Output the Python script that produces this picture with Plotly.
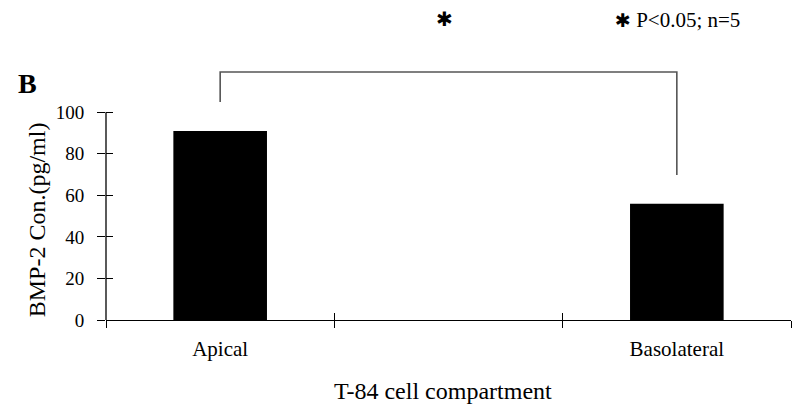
import plotly.graph_objects as go

categories = ["Apical", " ", "Basolateral"]
values = [91, None, 56]
y_ticks = [0, 20, 40, 60, 80, 100]
bracket_x = ["Apical", "Apical", "Basolateral", "Basolateral"]
bracket_y = [105, 119.4, 119.4, 69.8]
y_title = "BMP-2 Con.(pg/ml)"
x_title = "T-84 cell compartment"
panel_label = "B"
sig_mark = "✱"
sig_note = "P<0.05; n=5"

FONT = "Liberation Serif"
YMAX = 150.2

fig = go.Figure()
fig.add_trace(go.Bar(x=categories, y=values, width=0.41,
                     marker=dict(color="black", line=dict(width=0)),
                     hoverinfo="skip"))
fig.add_trace(go.Scatter(x=bracket_x, y=bracket_y, mode="lines",
                         line=dict(color="#555555", width=1.6),
                         hoverinfo="skip"))
# invisible trace carrying the overlay axes (for crossing tick marks)
fig.add_trace(go.Scatter(x=categories, y=[0, 0, 0], xaxis="x2", yaxis="y2",
                         mode="markers", marker=dict(opacity=0),
                         hoverinfo="skip"))

fig.update_layout(
    width=792, height=406,
    margin=dict(l=106, r=1, t=8, b=86),
    paper_bgcolor="white", plot_bgcolor="white",
    showlegend=False,
    font=dict(family=FONT, color="black"),
    xaxis=dict(type="category", categoryorder="array", categoryarray=categories,
               range=[-0.5, 2.5], tickson="boundaries",
               ticks="outside", ticklen=7, tickwidth=1.3, tickcolor="black",
               showline=True, linecolor="black", linewidth=1.3,
               showgrid=False, zeroline=False,
               tickfont=dict(family=FONT, size=21, color="black"),
               ticklabelstandoff=10),
    yaxis=dict(range=[0, YMAX], tickvals=y_ticks,
               ticks="outside", ticklen=8, tickwidth=1.3, tickcolor="black",
               showline=False, showgrid=False, zeroline=False,
               tickfont=dict(family=FONT, size=19, color="black"),
               ticklabelstandoff=9),
    xaxis2=dict(type="category", categoryorder="array", categoryarray=categories,
                range=[-0.5, 2.5], tickson="boundaries", overlaying="x",
                anchor="y2", side="bottom",
                ticks="inside", ticklen=7, tickwidth=1.3, tickcolor="black",
                showticklabels=False, showline=False, showgrid=False, zeroline=False),
    yaxis2=dict(range=[0, YMAX], tickvals=y_ticks, overlaying="y",
                anchor="x2", side="left",
                ticks="inside", ticklen=7, tickwidth=1.3, tickcolor="black",
                showticklabels=False, showline=False, showgrid=False, zeroline=False),
)

# y-axis line only up to 100
fig.add_shape(type="line", xref="paper", yref="y", x0=0, x1=0, y0=0, y1=y_ticks[-1],
              line=dict(color="black", width=1.3))

annotations = [
    dict(text=y_title, textangle=-90, xref="paper", yref="y", x=0, y=48,
         xanchor="center", yanchor="middle", xshift=-69, showarrow=False,
         font=dict(family=FONT, size=24, color="black")),
    dict(text=x_title, xref="x", yref="paper", x=1, y=0, xanchor="center",
         yanchor="top", xshift=-6, yshift=-56, showarrow=False,
         font=dict(family=FONT, size=24, color="black")),
    dict(text="<b>" + panel_label + "</b>", xref="paper", yref="y", x=0, y=114,
         xanchor="center", yanchor="middle", xshift=-79, showarrow=False,
         font=dict(family=FONT, size=28, color="black")),
    dict(text=sig_mark, xref="x", yref="y", x=1, y=145,
         xanchor="center", yanchor="middle", xshift=-4, showarrow=False,
         font=dict(family="DejaVu Sans", size=20, color="black")),
    dict(text='<span style="font-family:DejaVu Sans;font-size:19px">' + sig_mark
         + "</span> " + sig_note, xref="x", yref="y", x=1.72, y=144.5,
         xanchor="left", yanchor="middle", showarrow=False,
         font=dict(family=FONT, size=21, color="black")),
]
fig.update_layout(annotations=annotations)

fig.write_html("out.html")
